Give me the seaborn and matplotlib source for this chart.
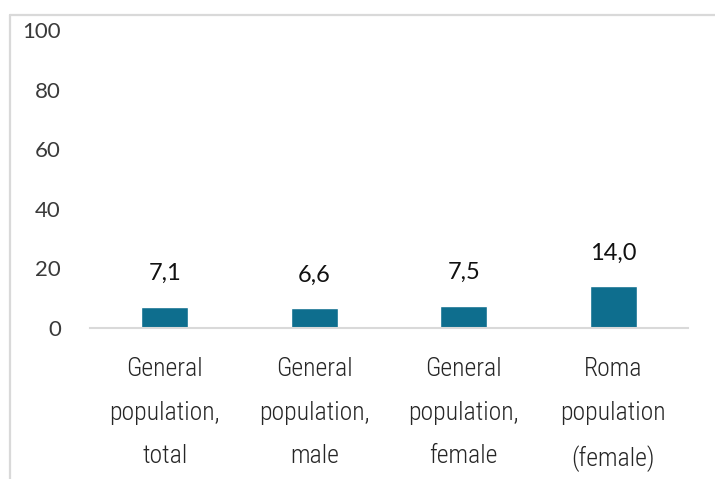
import matplotlib
matplotlib.use("Agg")
import matplotlib.pyplot as plt
from matplotlib import font_manager
import seaborn as sns
import pandas as pd

categories = [
    "General\npopulation,\ntotal",
    "General\npopulation,\nmale",
    "General\npopulation,\nfemale",
    "Roma\npopulation\n(female)",
]
values = [7.1, 6.6, 7.5, 14.0]
y_ticks = [0, 20, 40, 60, 80, 100]

sns.set_theme(style="white")
installed = {f.name for f in font_manager.fontManager.ttflist}


def pick(cands):
    for c in cands:
        if c in installed:
            return c
    return "DejaVu Sans"


narrow = pick(["Roboto Condensed", "Liberation Sans Narrow", "Open Sans Condensed",
               "DejaVu Sans Condensed", "Roboto"])
plt.rcParams["font.family"] = ["Lato", "DejaVu Sans"]

df = pd.DataFrame({"category": categories, "value": values})

fig = plt.figure(figsize=(7.15, 4.79), dpi=100)
ax = fig.add_axes([90 / 715, 1 - 328 / 479, 598 / 715, 298 / 479])

sns.barplot(data=df, x="category", y="value", color="#0e6e8e",
            width=0.315, saturation=1, ax=ax)

ax.set_ylim(0, 100)
ax.set_xlim(-0.5, 3.5)
ax.set_yticks(y_ticks)
ax.set_yticklabels([str(t) for t in y_ticks], fontsize=16, color="#3a3a3a",
                   fontweight="normal")
ax.tick_params(axis="y", length=0, pad=21)
ax.tick_params(axis="x", length=0, pad=21)
for lbl in ax.get_xticklabels():
    lbl.set_fontfamily(narrow)
    lbl.set_fontweight("light")
    lbl.set_fontsize(18.5)
    lbl.set_color("#262626")
    lbl.set_linespacing(2.02)
    lbl.set_verticalalignment("top")
ax.set_xlabel("")
ax.set_ylabel("")

for s in ["top", "right", "left"]:
    ax.spines[s].set_visible(False)
ax.spines["bottom"].set_color("#d9d9d9")
ax.spines["bottom"].set_linewidth(1.5)

for i, v in enumerate(values):
    ax.annotate(f"{v:.1f}".replace(".", ","), (i, v), xytext=(0, 24),
                textcoords="offset points", ha="center", va="center",
                fontsize=17, color="#111111")

# outer frame, open on the right and bottom
fig.add_artist(plt.Line2D([10 / 715, 1.0], [1 - 15 / 479] * 2,
                          transform=fig.transFigure, color="#d9d9d9", lw=1.6))
fig.add_artist(plt.Line2D([10 / 715] * 2, [0.0, 1 - 15 / 479],
                          transform=fig.transFigure, color="#d9d9d9", lw=1.6))

fig.savefig("out.png", dpi=100)
